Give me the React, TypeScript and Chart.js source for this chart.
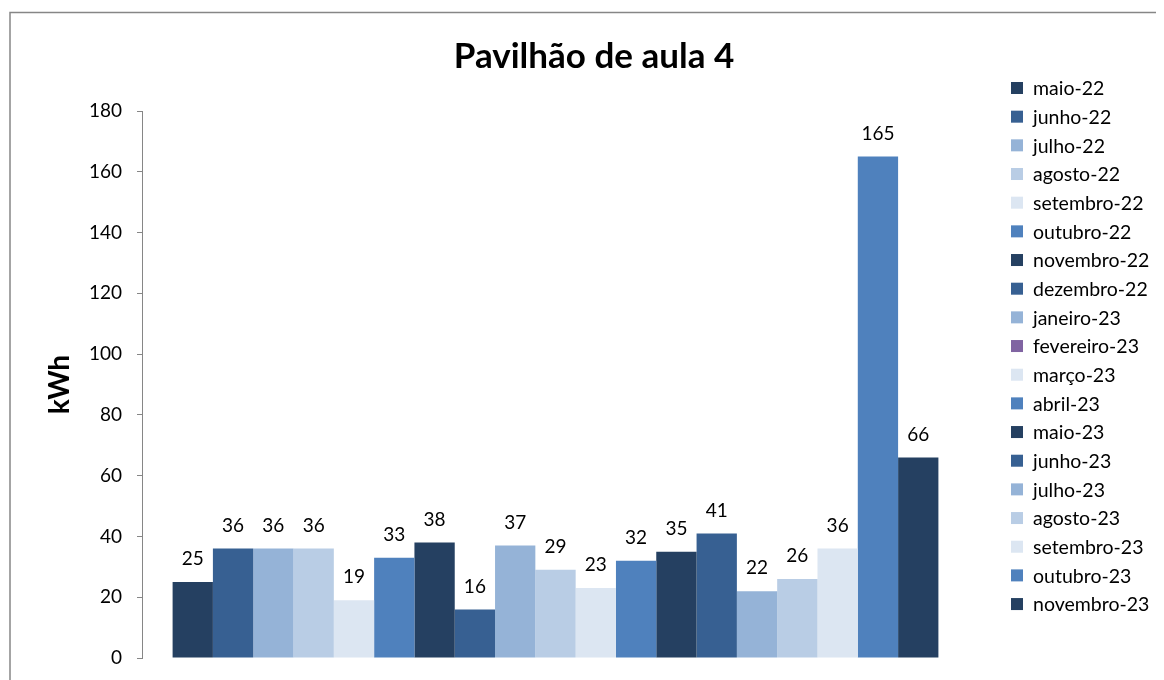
import React, { useEffect, useRef } from "react";
import { Chart, registerables } from "chart.js";

Chart.register(...registerables);

const TITLE = "Pavilhão de aula 4";
const Y_TITLE = "kWh";
const CATEGORIES = [""];
const MONTHS = [
  "maio-22", "junho-22", "julho-22", "agosto-22", "setembro-22", "outubro-22",
  "novembro-22", "dezembro-22", "janeiro-23", "fevereiro-23", "março-23", "abril-23",
  "maio-23", "junho-23", "julho-23", "agosto-23", "setembro-23", "outubro-23", "novembro-23",
];
const VALUES = [25, 36, 36, 36, 19, 33, 38, 16, 37, 29, 23, 32, 35, 41, 22, 26, 36, 165, 66];
const BAR_COLORS = [
  "#254061", "#376092", "#95B3D7", "#B9CDE5", "#DCE6F2", "#4F81BD",
  "#254061", "#376092", "#95B3D7", "#B9CDE5", "#DCE6F2", "#4F81BD",
  "#254061", "#376092", "#95B3D7", "#B9CDE5", "#DCE6F2", "#4F81BD", "#254061",
];
const LEGEND_COLORS = [
  "#254061", "#376092", "#95B3D7", "#B9CDE5", "#DCE6F2", "#4F81BD",
  "#254061", "#376092", "#95B3D7", "#8064A2", "#DCE6F2", "#4F81BD",
  "#254061", "#376092", "#95B3D7", "#B9CDE5", "#DCE6F2", "#4F81BD", "#254061",
];
const Y_MIN = 0;
const Y_MAX = 180;
const Y_STEP = 20;

const FONT = "Lato, 'Open Sans', sans-serif";

const decorPlugin = {
  id: "decor",
  afterDatasetsDraw(chart: any) {
    const ctx = chart.ctx;
    ctx.save();
    ctx.font = `19px ${FONT}`;
    ctx.fillStyle = "#000";
    ctx.textAlign = "center";
    ctx.textBaseline = "middle";
    chart.data.datasets.forEach((ds: any, i: number) => {
      const meta = chart.getDatasetMeta(i);
      meta.data.forEach((bar: any, j: number) => {
        const v = ds.data[j];
        if (v == null) return;
        ctx.fillText(String(v), bar.x, bar.y - 23);
      });
    });
    ctx.restore();
  },
  afterDraw(chart: any) {
    const ctx = chart.ctx;
    ctx.save();
    ctx.strokeStyle = "#868686";
    ctx.lineWidth = 1.5;
    ctx.beginPath();
    ctx.moveTo(2, chart.height + 5);
    ctx.lineTo(2, 4.5);
    ctx.lineTo(chart.width + 10, 4.5);
    ctx.stroke();
    ctx.font = `bold 35px ${FONT}`;
    ctx.fillStyle = "#000";
    ctx.textAlign = "center";
    ctx.textBaseline = "middle";
    ctx.fillText(TITLE, 586, 49);
    ctx.font = `19.5px ${FONT}`;
    ctx.textAlign = "left";
    chart.data.datasets.forEach((ds: any, i: number) => {
      const cy = 80 + i * 28.67;
      ctx.fillStyle = LEGEND_COLORS[i];
      ctx.fillRect(1003, cy - 6, 12, 12);
      ctx.fillStyle = "#000";
      ctx.fillText(ds.label, 1025, cy + 1);
    });
    ctx.restore();
  },
};

export default function App() {
  const ref = useRef<HTMLCanvasElement>(null);
  useEffect(() => {
    if (!ref.current) return;
    const chart = new Chart(ref.current, {
      type: "bar",
      data: {
        labels: CATEGORIES,
        datasets: MONTHS.map((m, i) => ({
          label: m,
          data: [VALUES[i]],
          backgroundColor: BAR_COLORS[i],
          borderWidth: 0,
        })),
      },
      options: {
        animation: false,
        responsive: false,
        layout: { padding: { top: 103, bottom: 22, left: 0, right: 195 } },
        datasets: { bar: { barPercentage: 1, categoryPercentage: 0.926 } },
        plugins: { legend: { display: false }, title: { display: false }, tooltip: { enabled: false } },
        scales: {
          x: { display: false },
          y: {
            min: Y_MIN,
            max: Y_MAX,
            afterFit: (s: any) => { s.width = 134; s.paddingBottom = 0; s.paddingTop = 0; },
            ticks: { stepSize: Y_STEP, color: "#000", padding: 15, font: { family: FONT, size: 19 } },
            grid: { drawOnChartArea: false, drawTicks: true, tickLength: 5, color: "#868686" },
            border: { display: true, color: "#868686", width: 1 },
            title: { display: true, text: Y_TITLE, color: "#000", font: { family: FONT, size: 28, weight: "bold" }, padding: { top: 35, bottom: 0 } },
          },
        },
      },
      plugins: [decorPlugin],
    });
    return () => chart.destroy();
  }, []);
  return <canvas ref={ref} width={1156} height={672} style={{ display: "block" }} />;
}
